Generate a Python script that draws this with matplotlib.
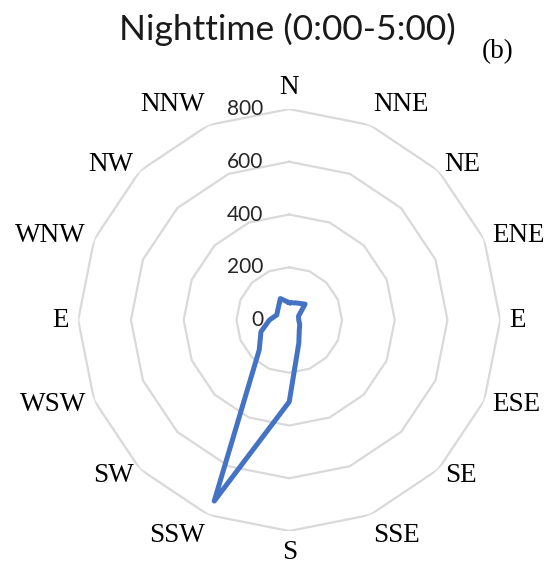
import numpy as np
import matplotlib.pyplot as plt

# wind direction labels (as printed on the original chart) and counts
directions = ['N', 'NNE', 'NE', 'ENE', 'E', 'ESE', 'SE', 'SSE',
              'S', 'SSW', 'SW', 'WSW', 'E', 'WNW', 'NW', 'NNW']
counts = [66, 70, 85, 38, 36, 43, 54, 95, 310, 743, 161, 116, 75, 51, 60, 88]
rings = [0, 200, 400, 600, 800]

fig = plt.figure(figsize=(5.47, 5.68), dpi=100)
ax = fig.add_axes([0.143, 0.0651, 0.7715, 0.743], projection='polar')
ax.set_theta_zero_location('N')
ax.set_theta_direction(-1)
ax.set_ylim(0, 800)
ax.grid(False)
ax.spines['polar'].set_visible(False)
ax.set_xticks([])
ax.set_yticks([])

theta = np.arange(len(directions)) * 2 * np.pi / len(directions)
closed = np.append(theta, theta[0])

# polygon gridlines like an Excel radar chart
for r in rings[1:]:
    ax.plot(closed, [r] * len(closed), color='#d9d9d9', lw=1.6, zorder=1)

ax.plot(closed, counts + counts[:1], color='#4472c4', lw=3.6,
        solid_joinstyle='round', zorder=3)

# radial value labels, left of the vertical axis
for r in rings:
    ax.annotate(str(r), xy=(0, r), xytext=(-26, 0), textcoords='offset pixels',
                ha='right', va='center', fontsize=15, family='Lato',
                color='#262626')

# compass labels
for a, lab in zip(theta, directions):
    s, c = np.sin(a), np.cos(a)
    ha = 'left' if s > 0.2 else ('right' if s < -0.2 else 'center')
    va = 'bottom' if c > 0.9 else ('top' if c < -0.9 else 'center')
    ax.text(a, 834, lab, ha=ha, va=va, fontsize=19.5,
            family='Liberation Serif', color='black')

fig.text(287.5 / 547, 1 - 40 / 568, 'Nighttime (0:00-5:00)', ha='center',
         va='baseline', fontsize=25.5, family='Lato', color='#1a1a1a')
fig.text(498 / 547, 1 - 52 / 568, '(b)', ha='center', va='center',
         fontsize=19.5, family='Liberation Serif', color='black')

fig.savefig('out.png', dpi=100)
